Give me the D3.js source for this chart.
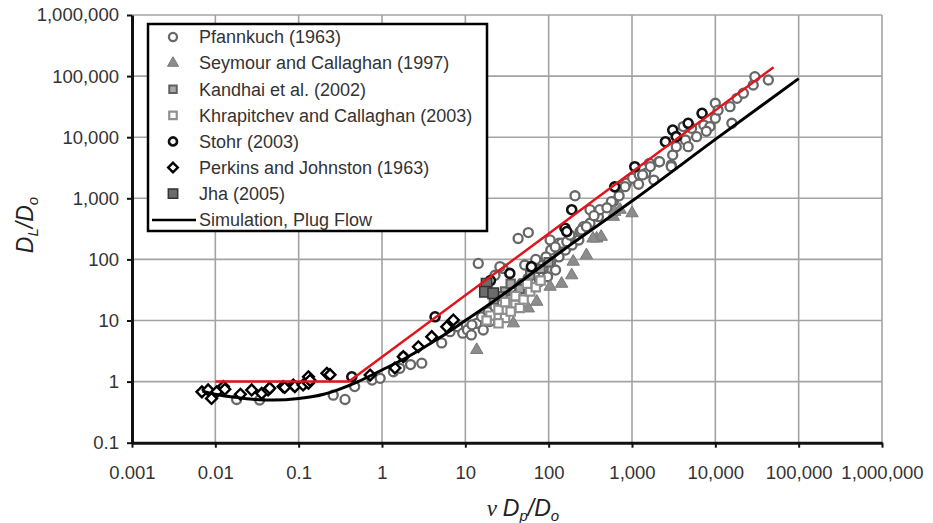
<!DOCTYPE html>
<html>
<head>
<meta charset="utf-8">
<script src="https://cdn.jsdelivr.net/npm/d3@7"></script>
<style>
  body { margin: 0; background: #fff; }
  svg { font-family: "Liberation Sans", Arial, sans-serif; }
  .grid line { stroke: #a3a3a3; stroke-width: 1.6; }
  .axis text { font-size: 18.5px; fill: #333; }
  .axis path, .axis line { stroke: #111; }
</style>
</head>
<body>
<svg id="chart" width="933" height="523"></svg>
<script>
// decades on both axes
var xTicks = [0.001, 0.01, 0.1, 1, 10, 100, 1000, 10000, 100000, 1000000];
var yTicks = [0.1, 1, 10, 100, 1000, 10000, 100000, 1000000];

// measured data, [vDp/Do, DL/Do]
var pfannkuch = [
  [0.018, 0.51], [0.034, 0.5], [0.26, 0.6], [0.36, 0.51], [0.47, 0.83], [0.76, 1.06], [0.95, 1.13],
  [1.37, 1.45], [1.64, 1.65], [1.8, 2.56], [3.0, 2.0], [2.2, 1.9], [5.2, 4.3], [6.55, 6.56], [8.1, 7.9],
  [9.3, 6.2], [10.6, 7.0], [11.8, 5.8], [13.7, 9.0], [15.7, 11.5], [16.4, 7.0], [18.8, 13.9], [19.7, 9.6],
  [22.7, 16.8], [24.8, 11.5], [27.3, 20.3], [29.8, 14.9], [32.7, 24.5], [35.8, 17.9], [39.3, 29.6],
  [43, 21.7], [47.2, 40], [51.6, 27.9], [56.5, 49], [62, 33.6], [68, 59], [77.5, 43], [85, 71], [97, 52],
  [106, 91.6], [121, 67], [133, 110], [159, 142], [191, 172], [230, 208], [133, 184], [106, 142], [93, 110],
  [77.5, 81], [51.6, 81], [28.3, 71], [22.7, 55], [26, 76], [14.3, 86], [43, 220], [57, 275], [207, 1100],
  [104, 208], [143, 184], [165, 195], [238, 286], [262, 343], [313, 390], [395, 500], [313, 650], [410, 650],
  [248, 303], [284, 343], [597, 880], [565, 880], [718, 1540], [860, 1770], [1018, 2130], [1220, 2420],
  [1460, 2560], [824, 1550], [1340, 2410], [1830, 1990], [1620, 3740], [2100, 3970], [2960, 3510],
  [3080, 5110], [3400, 7000], [4120, 14900], [5200, 14000], [4380, 9000], [4720, 7000], [5960, 10200],
  [7280, 15800], [8620, 14900], [10000, 20400], [10000, 35900], [15000, 31600], [15800, 16900],
  [18200, 43300], [21700, 52400], [28500, 71500], [29800, 97800], [43300, 86300], [7800, 12500],
  [10800, 27700], [2960, 3300], [2140, 3970], [1660, 3300], [120, 160], [180, 250], [350, 520],
  [500, 700], [700, 1100], [1200, 1700], [36, 35], [70, 100], [12, 8.5]
];
var seymour = [
  [13.7, 3.3], [37.7, 9], [57, 15.8], [72, 20.3], [104, 35.8], [143, 40], [189, 55], [197, 92], [284, 117],
  [377, 220], [427, 235], [340, 220], [597, 500], [620, 600], [720, 650], [1000, 570]
];
var kandhai = [[22, 22], [30, 30], [35, 40], [50, 40], [60, 55], [80, 70], [100, 90], [28, 25], [45, 33]];
var khrapitchev = [
  [20, 12], [25, 15], [30, 11], [30, 20], [40, 18], [40, 25], [50, 22], [60, 30], [70, 35], [80, 45],
  [25, 9], [35, 14], [45, 16], [18, 10], [55, 40]
];
var stohr = [
  [0.434, 1.2], [4.33, 11.5], [17.2, 31.6], [20, 45], [34.2, 59], [62, 76], [157, 324], [165, 286],
  [189, 650], [620, 1540], [1080, 3290], [2520, 8440], [3080, 13100], [4720, 16900], [6930, 24600], [3400, 10200]
];
var perkins = [
  [0.0069, 0.68], [0.0082, 0.73], [0.009, 0.53], [0.0104, 0.68], [0.0125, 0.83], [0.013, 0.75], [0.02, 0.62],
  [0.0273, 0.73], [0.036, 0.64], [0.043, 0.73], [0.045, 0.78], [0.065, 0.83], [0.068, 0.8], [0.086, 0.88],
  [0.09, 0.83], [0.113, 0.88], [0.131, 1.2], [0.131, 0.94], [0.137, 1.05], [0.218, 1.37], [0.238, 1.3],
  [0.72, 1.28], [1.43, 1.67], [1.8, 2.56], [2.73, 3.72], [3.95, 5.43], [5.98, 7.9], [7.18, 10.2]
];
var jha = [[18, 40], [17.2, 29.6], [21.6, 27.9]];

// simulation, plug flow
var simX = [0.007, 0.01, 0.02, 0.03, 0.05, 0.1, 0.2, 0.3, 0.5, 1, 2, 5, 10, 20, 50, 100, 200, 500, 1000, 10000, 100000];
var simY = [0.7, 0.62, 0.54, 0.51, 0.5, 0.53, 0.62, 0.74, 0.98, 1.55, 2.5, 5.3, 10, 19, 47, 95, 190, 460, 900, 9200, 91000];

// red guide line
var redX = [0.01, 0.4, 50000];
var redY = [1, 1, 140000];

var svg = d3.select("#chart");

var x = d3.scaleLog().domain([0.001, 1000000]).range([132, 882]);
var y = d3.scaleLog().domain([0.1, 1000000]).range([442.7, 15]);

function fmt(d) {
  return d < 1 ? String(d) : d3.format(",")(d);
}

// grid
var grid = svg.append("g").attr("class", "grid");
grid.selectAll(".gx")
  .data(xTicks.slice(1))
  .enter().append("line")
  .attr("x1", function (d) { return x(d); })
  .attr("x2", function (d) { return x(d); })
  .attr("y1", y(0.1))
  .attr("y2", y(1000000));
grid.selectAll(".gy")
  .data(yTicks.slice(1))
  .enter().append("line")
  .attr("x1", x(0.001))
  .attr("x2", x(1000000))
  .attr("y1", function (d) { return y(d); })
  .attr("y2", function (d) { return y(d); });

// axes
var gx = svg.append("g").attr("class", "axis")
  .attr("transform", "translate(0," + y(0.1) + ")")
  .call(d3.axisBottom(x).tickValues(xTicks).tickFormat(fmt).tickSize(5).tickSizeOuter(0).tickPadding(18));
var gy = svg.append("g").attr("class", "axis")
  .attr("transform", "translate(" + x(0.001) + ",0)")
  .call(d3.axisLeft(y).tickValues(yTicks).tickFormat(fmt).tickSize(5).tickSizeOuter(0).tickPadding(8));
svg.selectAll(".axis path").attr("stroke-width", 3);
svg.selectAll(".axis .tick line").attr("stroke-width", 2);
svg.selectAll(".axis text").attr("font-family", null);
gx.selectAll("text").attr("font-size", null);
gy.selectAll("text").attr("font-size", null);

// series styles
var series = [
  { name: "Pfannkuch (1963)", data: pfannkuch, type: d3.symbolCircle, size: 64, fill: "#fff", stroke: "#676767", sw: 2.3, rot: 0 },
  { name: "Seymour and Callaghan (1997)", data: seymour, type: d3.symbolTriangle, size: 66, fill: "#8c8c8c", stroke: "#7a7a7a", sw: 1, rot: 0 },
  { name: "Kandhai et al. (2002)", data: kandhai, type: d3.symbolSquare, size: 70, fill: "#a8a8a8", stroke: "#606060", sw: 2, rot: 0 },
  { name: "Khrapitchev and Callaghan (2003)", data: khrapitchev, type: d3.symbolSquare, size: 70, fill: "#fff", stroke: "#8f8f8f", sw: 2.2, rot: 0 },
  { name: "Stohr (2003)", data: stohr, type: d3.symbolCircle, size: 64, fill: "#fff", stroke: "#111", sw: 2.6, rot: 0 },
  { name: "Perkins and Johnston (1963)", data: perkins, type: d3.symbolSquare, size: 58, fill: "#fff", stroke: "#000", sw: 2.4, rot: 45 },
  { name: "Jha (2005)", data: jha, type: d3.symbolSquare, size: 110, fill: "#6b6b6b", stroke: "#333", sw: 1.5, rot: 0 }
];

var plot = svg.append("g");
series.forEach(function (s) {
  plot.selectAll(null)
    .data(s.data)
    .enter().append("path")
    .attr("d", d3.symbol().type(s.type).size(s.size))
    .attr("transform", function (d) { return "translate(" + x(d[0]) + "," + y(d[1]) + ") rotate(" + s.rot + ")"; })
    .attr("fill", s.fill)
    .attr("stroke", s.stroke)
    .attr("stroke-width", s.sw);
});

// lines
var simLine = d3.line()
  .x(function (d, i) { return x(simX[i]); })
  .y(function (d, i) { return y(simY[i]); })
  .curve(d3.curveMonotoneX);
plot.append("path")
  .attr("d", simLine(simX))
  .attr("fill", "none")
  .attr("stroke", "#000")
  .attr("stroke-width", 3);

var redLine = d3.line()
  .x(function (d, i) { return x(redX[i]); })
  .y(function (d, i) { return y(redY[i]); });
plot.append("path")
  .attr("d", redLine(redX))
  .attr("fill", "none")
  .attr("stroke", "#e3141c")
  .attr("stroke-width", 2.5);

// legend
var legend = svg.append("g");
legend.append("rect")
  .attr("x", 148).attr("y", 24)
  .attr("width", 339).attr("height", 207)
  .attr("fill", "#fff")
  .attr("stroke", "#000")
  .attr("stroke-width", 2.5);
series.forEach(function (s, i) {
  var ly = 37 + i * 26.1;
  legend.append("path")
    .attr("d", d3.symbol().type(s.type).size(s.size * 0.8))
    .attr("transform", "translate(173," + ly + ") rotate(" + s.rot + ")")
    .attr("fill", s.fill)
    .attr("stroke", s.stroke)
    .attr("stroke-width", s.sw);
  legend.append("text")
    .attr("x", 199).attr("y", ly)
    .attr("dy", "0.35em")
    .attr("font-size", 18)
    .attr("fill", "#333")
    .text(s.name);
});
legend.append("line")
  .attr("x1", 152).attr("x2", 196)
  .attr("y1", 220).attr("y2", 220)
  .attr("stroke", "#000").attr("stroke-width", 2.5);
legend.append("text")
  .attr("x", 199).attr("y", 220)
  .attr("dy", "0.35em")
  .attr("font-size", 18)
  .attr("fill", "#333")
  .text("Simulation, Plug Flow");

// axis titles
var xt = svg.append("text")
  .attr("x", 523).attr("y", 516)
  .attr("text-anchor", "middle")
  .attr("font-size", 23)
  .attr("fill", "#222");
xt.append("tspan").attr("font-family", "Liberation Serif, serif").attr("font-style", "italic").text("\u03bd ");
xt.append("tspan").attr("font-style", "italic").text("D");
xt.append("tspan").attr("font-style", "italic").attr("font-size", 15).attr("dy", 5).text("p");
xt.append("tspan").attr("font-style", "italic").attr("dy", -5).text("/D");
xt.append("tspan").attr("font-style", "italic").attr("font-size", 15).attr("dy", 5).text("o");

var yt = svg.append("text")
  .attr("transform", "translate(33,225) rotate(-90)")
  .attr("text-anchor", "middle")
  .attr("font-size", 23)
  .attr("fill", "#222");
yt.append("tspan").attr("font-style", "italic").text("D");
yt.append("tspan").attr("font-style", "italic").attr("font-size", 15).attr("dy", 5).text("L");
yt.append("tspan").attr("font-style", "italic").attr("dy", -5).text("/D");
yt.append("tspan").attr("font-style", "italic").attr("font-size", 15).attr("dy", 5).text("o");
</script>
</body>
</html>
